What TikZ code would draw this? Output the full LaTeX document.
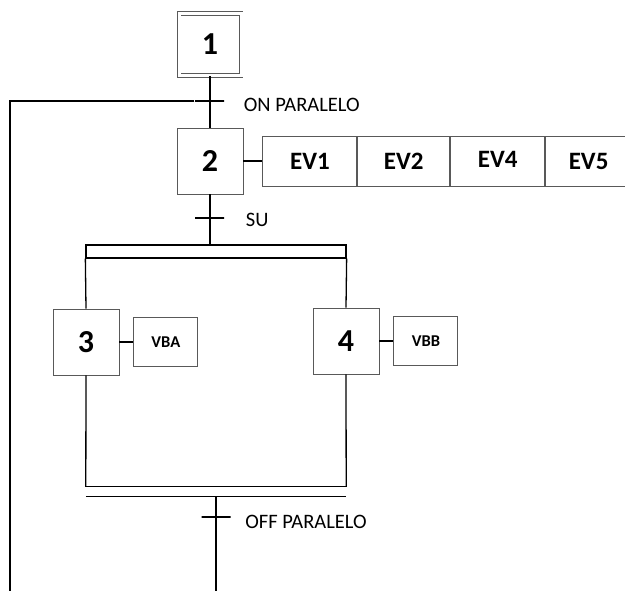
\documentclass[tikz,border=0pt]{standalone}
\usepackage{fontspec}
\setmainfont{Carlito}
\usetikzlibrary{positioning}

\begin{document}
\begin{tikzpicture}[x=1pt, y=-1pt, font=\fontsize{20.5}{22}\selectfont,
  stp/.style={draw=black!65, line width=0.9pt, minimum size=66pt, inner sep=0pt,
              font=\fontsize{32}{34}\selectfont\bfseries},
  init/.style={stp, double, double distance=3pt, minimum size=62pt},
  act/.style={draw=black!65, line width=0.9pt, minimum height=50pt, inner sep=0pt,
              font=\fontsize{25}{27}\selectfont\bfseries},
  sact/.style={act, minimum width=64pt, minimum height=49pt,
               font=\fontsize{16.5}{18}\selectfont\bfseries},
  tr/.style={draw, line width=1.3pt, minimum width=29pt, minimum height=0pt, inner sep=0pt},
  lbl/.style={inner sep=0pt, anchor=west},
  lk/.style={line width=1.3pt}]
\useasboundingbox (0,0) rectangle (625,591);

\node[init] (s1) at (210,44.5) {1};
\node[tr] (t1) at (209.5,101) {};
\node[lbl, right=19pt of t1, yshift=-4pt] (l1) {ON PARALELO};
\node[stp] (s2) at (210,161) {2};
\node[act, minimum width=94pt, right=19pt of s2] (ev1) {EV1};
\node[act, minimum width=92pt, right=0pt of ev1] (ev2) {EV2};
\node[act, minimum width=94pt, right=0pt of ev2] (ev4) {\raisebox{3pt}{EV4}};
\node[act, minimum width=86pt, right=0pt of ev4] (ev5) {EV5};

\node[tr] (t2) at (209.5,218) {};
\node[lbl, right=21pt of t2, yshift=-2pt] (l2) {SU};
\node[draw, line width=1.3pt, minimum width=260pt, minimum height=13pt, inner sep=0pt]
  (div) at (216,251.5) {};

\node[stp] (s3) at (86,342) {3};
\node[sact, right=14pt of s3] (vba) {VBA};
\node[stp] (s4) at (346,341) {4};
\node[sact, right=14pt of s4] (vbb) {VBB};

\node[minimum width=260pt, minimum height=9pt, inner sep=0pt] (conv) at (216,491.5) {};
\node[tr] (t3) at (216,517) {};
\node[lbl, right=14pt of t3, yshift=-5pt] (l3) {OFF PARALELO};
\coordinate (loop) at (10,591);
\coordinate (out) at (216,591);

\draw[lk] (s1.south) -- (s2.north);
\draw[lk] (t1.west) -| (loop);
\draw[lk] (s2.east) -- (ev1.west);
\draw[lk] (s2.south) -- (s2.south |- div.north);
\draw[lk] (div.south west) -- (s3.north);
\draw[lk] (div.south east) -- (s4.north);
\draw[lk] (s3.east) -- (vba.west);
\draw[lk] (s4.east) -- (vbb.west);
\draw[lk] (s3.south) -- (conv.north west);
\draw[lk] (s4.south) -- (conv.north east);
\draw[lk] (conv.north west) -- (conv.north east);
\draw[lk] (conv.south west) -- (conv.south east);
\draw[lk] (conv.south) -- (out);
\end{tikzpicture}
\end{document}
